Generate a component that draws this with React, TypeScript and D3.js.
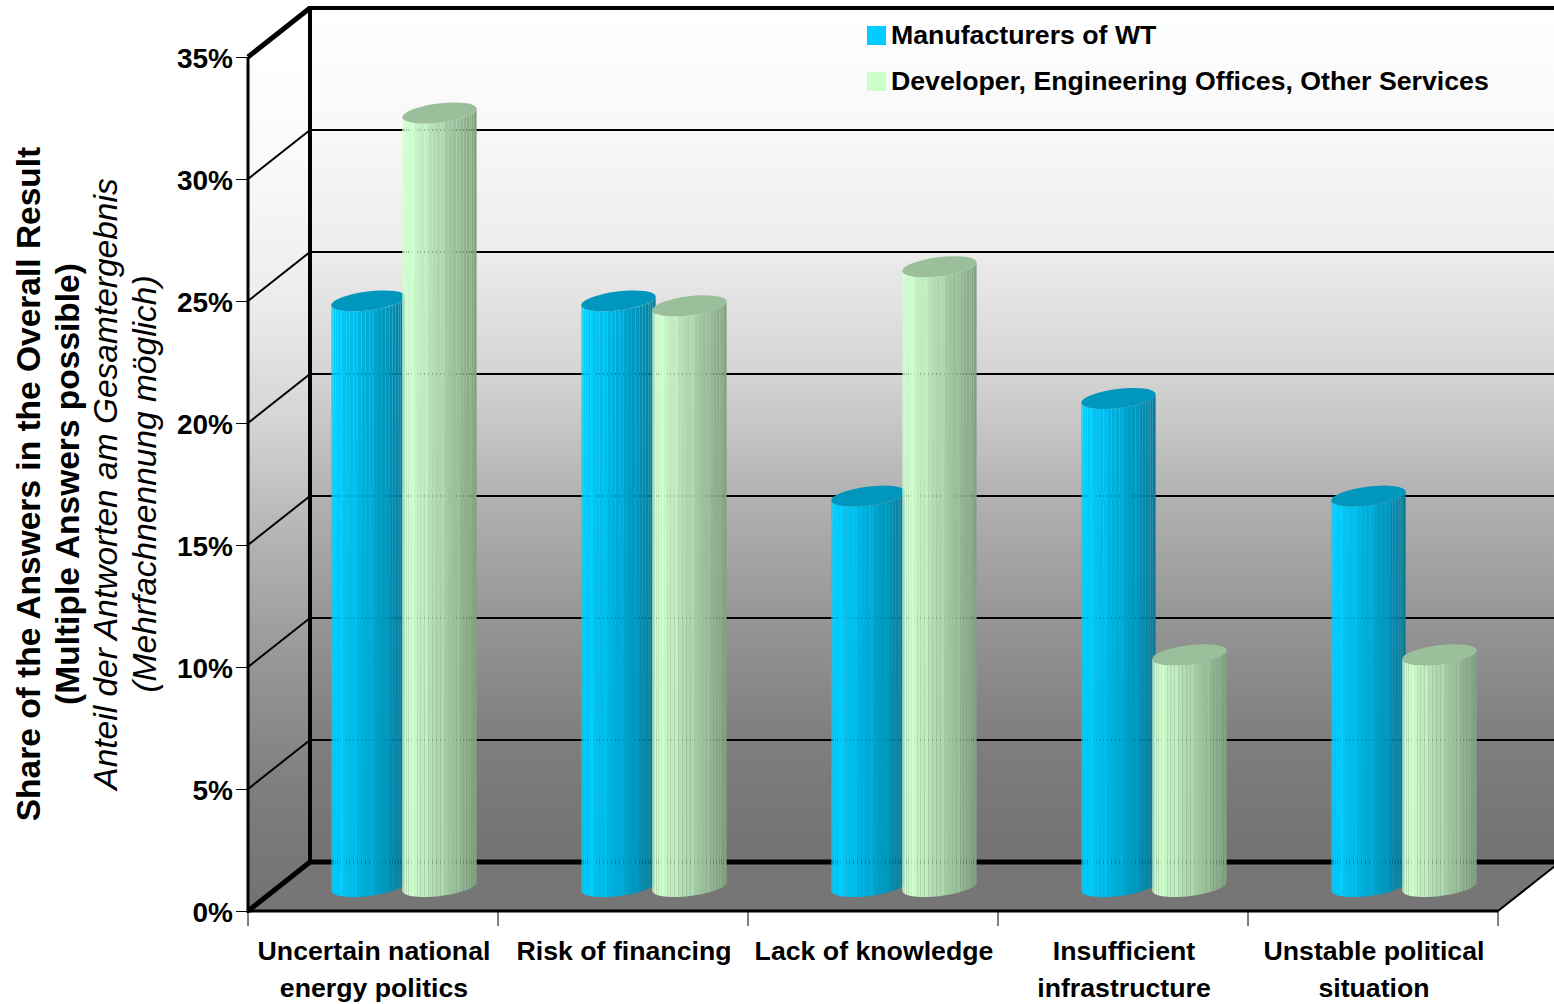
import React, { useEffect, useRef } from 'react';
import * as d3 from 'd3';

const categories = [
  'Uncertain national\nenergy politics',
  'Risk of financing',
  'Lack of knowledge',
  'Insufficient\ninfrastructure',
  'Unstable political\nsituation',
];
const seriesNames = ['Manufacturers of WT', 'Developer, Engineering Offices, Other Services'];
const manufacturers = [24, 24, 16, 20, 16];
const developers = [31.7, 23.8, 25.4, 9.5, 9.5];
const yTicks = [0, 5, 10, 15, 20, 25, 30, 35];
const wallStops = [
  [0, '#ffffff'],
  [0.143, '#f8f8f8'],
  [0.286, '#ececec'],
  [0.429, '#d4d4d4'],
  [0.571, '#b2b2b2'],
  [0.714, '#969696'],
  [0.857, '#7e7e7e'],
  [1, '#727272'],
];
const seriesColors = [
  { light: '#00ccff', dark: '#007c9c', top: '#0096bd', swatch: '#00ccff' },
  { light: '#ccffcc', dark: '#7f9f7f', top: '#9abf9a', swatch: '#ccffcc' },
];

const WIDTH = 1554;
const HEIGHT = 1004;
const FONT = '"Liberation Sans", Arial, sans-serif';

export default function App() {
  const svgRef = useRef<SVGSVGElement>(null);

  useEffect(() => {
    if (!svgRef.current) return;
    const svg = d3.select(svgRef.current);
    svg.selectAll('*').remove();

    const left = 248;
    const right = 1498;
    const bottom = 911;
    const top = 57;
    const dx = 62;
    const dy = -49;

    const y = d3.scaleLinear().domain([0, 35]).range([bottom, top]);
    const x = d3.scaleBand<string>().domain(categories).range([left, right]);
    const inner = d3.scaleBand<string>().domain(seriesNames).range([85, 227]);

    const defs = svg.append('defs');
    const wall = defs
      .append('linearGradient')
      .attr('id', 'wall')
      .attr('gradientUnits', 'userSpaceOnUse')
      .attr('x1', 0)
      .attr('y1', top + dy)
      .attr('x2', 0)
      .attr('y2', bottom + dy);
    wallStops.forEach(([o, c]) => wall.append('stop').attr('offset', o as number).attr('stop-color', c as string));
    const side = defs
      .append('linearGradient')
      .attr('id', 'side')
      .attr('gradientUnits', 'userSpaceOnUse')
      .attr('x1', 0)
      .attr('y1', top)
      .attr('x2', 0)
      .attr('y2', bottom);
    wallStops.forEach(([o, c]) => side.append('stop').attr('offset', o as number).attr('stop-color', c as string));

    const poly = (pts: [number, number][]) => d3.line()(pts) + 'Z';

    // walls and floor
    svg.append('path')
      .attr('d', poly([[left + dx, top + dy], [WIDTH + 10, top + dy], [WIDTH + 10, bottom + dy], [left + dx, bottom + dy]]))
      .attr('fill', 'url(#wall)');
    svg.append('path')
      .attr('d', poly([[left, top], [left + dx, top + dy], [left + dx, bottom + dy], [left, bottom]]))
      .attr('fill', 'url(#side)');
    svg.append('path')
      .attr('d', poly([[left, bottom], [left + dx, bottom + dy], [right + dx, bottom + dy], [right, bottom]]))
      .attr('fill', '#767676');

    // gridlines
    yTicks.forEach((t) => {
      const w = t === 0 || t === 35 ? 4 : 2;
      svg.append('line')
        .attr('x1', left + dx).attr('x2', WIDTH + 10)
        .attr('y1', y(t) + dy).attr('y2', y(t) + dy)
        .attr('stroke', '#000').attr('stroke-width', t === 0 ? 5 : w);
      svg.append('line')
        .attr('x1', left).attr('x2', left + dx)
        .attr('y1', y(t)).attr('y2', y(t) + dy)
        .attr('stroke', '#000').attr('stroke-width', t === 0 ? 5 : t === 35 ? 5 : 2);
    });
    svg.append('line')
      .attr('x1', left + dx).attr('x2', left + dx)
      .attr('y1', top + dy - 2).attr('y2', bottom + dy + 2)
      .attr('stroke', '#000').attr('stroke-width', 4);
    svg.append('line')
      .attr('x1', left).attr('x2', left)
      .attr('y1', top).attr('y2', bottom + 2)
      .attr('stroke', '#000').attr('stroke-width', 3);
    svg.append('line')
      .attr('x1', right).attr('x2', right + dx)
      .attr('y1', bottom).attr('y2', bottom + dy)
      .attr('stroke', '#000').attr('stroke-width', 2);

    // cylinders
    const rx = 37.5;
    const ry = 9.5;
    const tilt = (-7 * Math.PI) / 180;
    const facets = 28;
    const rimPoint = (cx: number, cy: number, t: number): [number, number] => {
      const ex = rx * Math.cos(t);
      const ey = ry * Math.sin(t);
      return [cx + ex * Math.cos(tilt) - ey * Math.sin(tilt), cy + ex * Math.sin(tilt) + ey * Math.cos(tilt)];
    };

    const drawBar = (cat: string, s: number, value: number) => {
      const colors = seriesColors[s];
      const cx = (x(cat) as number) + (inner(seriesNames[s]) as number) + inner.bandwidth() / 2;
      const baseY = y(0) + dy / 2;
      const topY = y(value) + dy / 2;
      const shade = d3.scaleLinear<string>().domain([0, 0.07, 1]).range([colors.light, colors.light, colors.dark]);
      const g = svg.append('g');
      d3.range(facets).forEach((i) => {
        const t0 = Math.PI - (i / facets) * Math.PI;
        const t1 = Math.PI - ((i + 1) / facets) * Math.PI;
        const a = rimPoint(cx, topY, t0);
        const b = rimPoint(cx, topY, t1);
        const c = rimPoint(cx, baseY, t1);
        const d = rimPoint(cx, baseY, t0);
        const f = (a[0] - (cx - rx)) / (2 * rx);
        // every few facets catches a little more light
        const fill = i % 4 === 2 ? (d3.color(shade(f)) as d3.Color).brighter(0.1).formatHex() : shade(f);
        g.append('path').attr('d', poly([a, b, c, d])).attr('fill', fill);
      });
      g.append('ellipse')
        .attr('rx', rx)
        .attr('ry', ry)
        .attr('transform', `translate(${cx},${topY}) rotate(-7)`)
        .attr('fill', colors.top);
    };

    categories.forEach((cat, i) => {
      drawBar(cat, 0, manufacturers[i]);
      drawBar(cat, 1, developers[i]);
    });

    // front lines over the floor
    svg.append('line')
      .attr('x1', left).attr('x2', right)
      .attr('y1', bottom).attr('y2', bottom)
      .attr('stroke', '#000').attr('stroke-width', 3);

    // axes
    const yAxis = svg.append('g')
      .attr('transform', `translate(${left},0)`)
      .call(d3.axisLeft(y).tickValues(yTicks).tickSize(12).tickSizeOuter(0).tickFormat((d) => `${d}%`));
    yAxis.select('.domain').remove();
    yAxis.selectAll('.tick line').attr('stroke', '#000').attr('stroke-width', 1);
    yAxis.selectAll('text')
      .attr('x', -15)
      .attr('dy', '0.36em')
      .attr('fill', '#000')
      .style('font-family', FONT)
      .style('font-size', '28px')
      .style('font-weight', 'bold');

    const xEdges = [...categories.map((c) => x(c) as number), right];
    xEdges.forEach((e) => {
      svg.append('line')
        .attr('x1', e).attr('x2', e)
        .attr('y1', bottom).attr('y2', bottom + 15)
        .attr('stroke', '#000').attr('stroke-width', 1);
    });

    categories.forEach((cat) => {
      const text = svg.append('text')
        .attr('text-anchor', 'middle')
        .attr('font-family', FONT)
        .attr('font-size', 26.7)
        .attr('font-weight', 'bold');
      cat.split('\n').forEach((line, i) => {
        text.append('tspan')
          .attr('x', (x(cat) as number) + x.bandwidth() / 2 + 1)
          .attr('y', 960 + i * 37)
          .text(line);
      });
    });

    // y titles
    const titles = [
      { text: 'Share of the Answers in the Overall Result', x: 40, weight: 'bold', style: 'normal', size: 33.5 },
      { text: '(Multiple Answers possible)', x: 79, weight: 'bold', style: 'normal', size: 33.5 },
      { text: 'Anteil der Antworten am Gesamtergebnis', x: 117, weight: 'normal', style: 'italic', size: 33.5 },
      { text: '(Mehrfachnennung möglich)', x: 156, weight: 'normal', style: 'italic', size: 33.5 },
    ];
    titles.forEach((t) => {
      svg.append('text')
        .attr('transform', `translate(${t.x},484) rotate(-90)`)
        .attr('text-anchor', 'middle')
        .attr('font-family', FONT)
        .attr('font-size', t.size)
        .attr('font-weight', t.weight)
        .attr('font-style', t.style)
        .text(t.text);
    });

    // legend
    seriesNames.forEach((name, i) => {
      svg.append('rect')
        .attr('x', 867).attr('y', 26 + i * 46)
        .attr('width', 19).attr('height', 19)
        .attr('fill', seriesColors[i].swatch);
      svg.append('text')
        .attr('x', 891).attr('y', 43.5 + i * 46)
        .attr('font-family', FONT)
        .attr('font-size', 26.7)
        .attr('font-weight', 'bold')
        .text(name);
    });
  }, []);

  return (
    <svg
      ref={svgRef}
      width={WIDTH}
      height={HEIGHT}
      style={{ position: 'absolute', left: 0, top: 0, background: '#fff' }}
    ></svg>
  );
}
